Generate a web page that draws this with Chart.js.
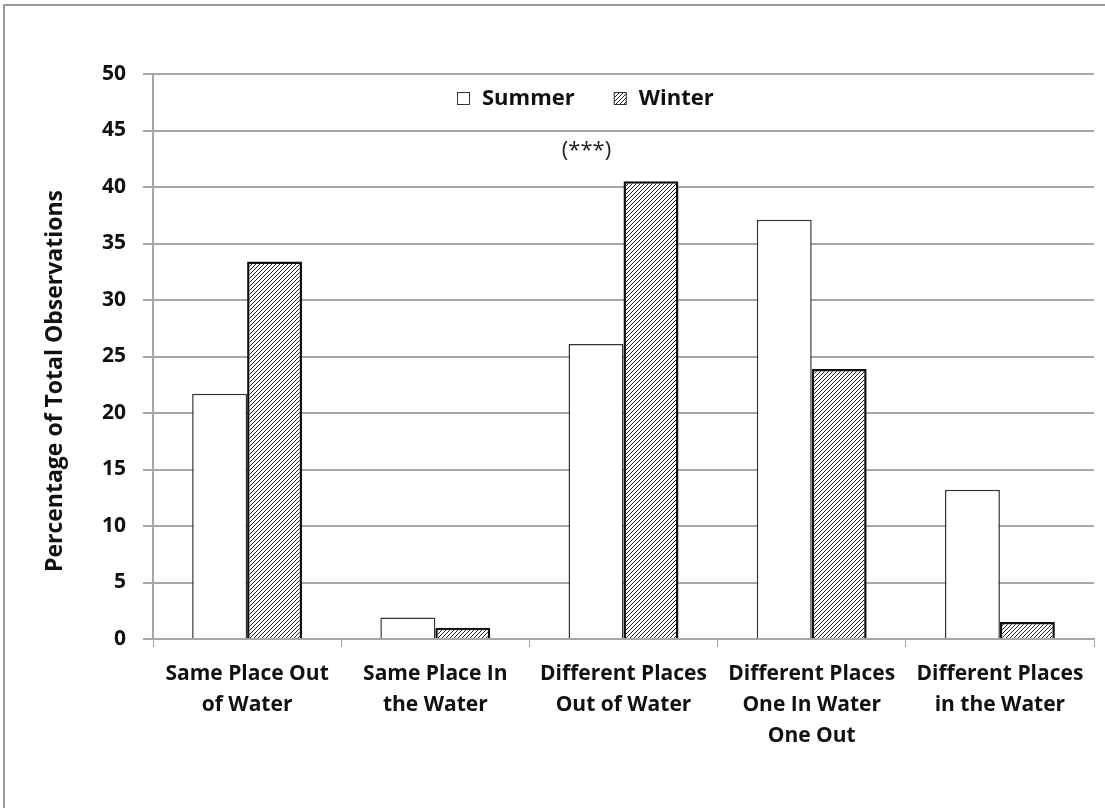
<!DOCTYPE html>
<html>
<head>
<meta charset="utf-8">
<script src="https://cdn.jsdelivr.net/npm/chart.js@4.4.0/dist/chart.umd.min.js"></script>
<style>
  html, body { margin:0; padding:0; background:#fff; }
  #frame { position:absolute; left:3px; top:4px; width:1200px; height:900px;
           border-left:2px solid #9a9a9a; border-top:2px solid #9a9a9a; }
  #chart { position:absolute; left:0; top:0; }
</style>
</head>
<body>
<div id="frame"></div>
<canvas id="chart" width="1105" height="808"></canvas>
<script>
"use strict";

// ─── Data ──────────────────────────────────────────────────
const categories = [
  ["Same Place Out", "of Water"],
  ["Same Place In", "the Water"],
  ["Different Places", "Out of Water"],
  ["Different Places", "One In Water", "One Out"],
  ["Different Places", "in the Water"],
];
const summerValues = [21.7, 1.9, 26.1, 37.1, 13.2];
const winterValues = [33.4, 1.0, 40.5, 23.9, 1.5];
const yTicks = [0, 5, 10, 15, 20, 25, 30, 35, 40, 45, 50];
const yTitle = "Percentage of Total Observations";
const annotationText = "(***)";

const FONT = "'Open Sans', sans-serif";
const GRID = "#a6a6a6";

// Helper: diagonal hatch pattern
function hatch() {
  const c = document.createElement("canvas");
  c.width = 4; c.height = 4;
  const g = c.getContext("2d");
  g.fillStyle = "#fff";
  g.fillRect(0, 0, 4, 4);
  g.strokeStyle = "#222";
  g.lineWidth = 1;
  g.beginPath();
  g.moveTo(0, 4); g.lineTo(4, 0);
  g.moveTo(-1, 1); g.lineTo(1, -1);
  g.moveTo(3, 5); g.lineTo(5, 3);
  g.stroke();
  return g.createPattern(c, "repeat");
}
const HATCH = hatch();

// ─── Legend, axis title + annotation drawn by hand ─────────
const overlay = {
  id: "overlay",
  afterDraw(chart) {
    const { ctx, scales } = chart;
    ctx.save();
    // legend
    ctx.font = "bold 22px " + FONT;
    ctx.textBaseline = "middle";
    ctx.textAlign = "left";
    let x = 457;
    const y = 99;
    chart.data.datasets.forEach(ds => {
      ctx.fillStyle = ds.backgroundColor;
      ctx.fillRect(x, y - 7, 13, 13);
      ctx.strokeStyle = "#333";
      ctx.lineWidth = 1;
      ctx.strokeRect(x + 0.5, y - 6.5, 12, 12);
      ctx.fillStyle = "#111";
      ctx.fillText(ds.label, x + 25, y);
      x += 25 + ctx.measureText(ds.label).width + 39;
    });
    // significance mark
    ctx.font = "22px " + FONT;
    ctx.textAlign = "center";
    ctx.fillStyle = "#222";
    ctx.fillText(annotationText, scales.x.getPixelForValue(2) - 37, scales.y.getPixelForValue(43.2));
    // y title
    ctx.translate(55, 381);
    ctx.rotate(-Math.PI / 2);
    ctx.font = "bold 23px " + FONT;
    ctx.fillStyle = "#111";
    ctx.fillText(yTitle, 0, 0);
    ctx.restore();
  },
};

new Chart(document.getElementById("chart"), {
  type: "bar",
  data: {
    labels: categories,
    datasets: [
      { label: "Summer", data: summerValues, backgroundColor: "#ffffff",
        borderColor: "#333", borderWidth: 1.5 },
      { label: "Winter", data: winterValues, backgroundColor: HATCH,
        borderColor: "#111", borderWidth: 2.5 },
    ],
  },
  options: {
    responsive: false,
    animation: false,
    layout: { padding: { left: 44, right: 11, top: 74, bottom: 0 } },
    datasets: { bar: { categoryPercentage: 0.584, barPercentage: 1.0 } },
    scales: {
      x: {
        grid: { drawOnChartArea: false, drawTicks: true, tickLength: 8, color: GRID, offset: true },
        border: { color: GRID, width: 2 },
        ticks: { color: "#111", padding: 11, maxRotation: 0, autoSkip: false,
                 font: { family: FONT, size: 21, weight: "bold", lineHeight: 1.48 } },
        afterFit: s => { s.height = 169; },
      },
      y: {
        min: 0, max: 50,
        afterBuildTicks: s => { s.ticks = yTicks.map(v => ({ value: v })); },
        grid: { color: GRID, lineWidth: 2, tickLength: 10 },
        border: { color: GRID, width: 2 },
        ticks: { color: "#111", padding: 17,
                 font: { family: FONT, size: 21, weight: "bold" } },
        afterFit: s => { s.width = 109; },
      },
    },
    plugins: { legend: { display: false }, tooltip: { enabled: false } },
  },
  plugins: [overlay],
});
</script>
</body>
</html>
